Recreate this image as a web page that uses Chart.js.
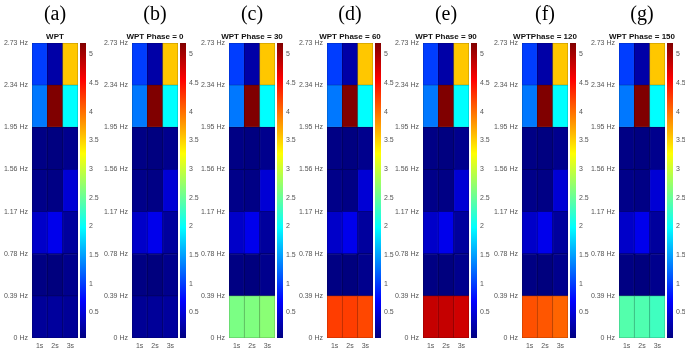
<!DOCTYPE html>
<html>
<head>
<meta charset="utf-8">
<script src="https://cdn.jsdelivr.net/npm/chart.js@4.4.1/dist/chart.umd.min.js"></script>
<style>
    body { margin: 0; background: #fff; }
    #wrap { position: relative; width: 685px; height: 354px; overflow: hidden; }
    canvas { position: absolute; top: 0; }
    .letter { position: absolute; top: 2px; width: 60px; text-align: center; font: 20px "Liberation Serif", "Times New Roman", serif; line-height: 22px; color: #000; }
    .ptitle { position: absolute; top: 33px; width: 90px; text-align: center; font: bold 8px Arial, "Liberation Sans", sans-serif; line-height: 8px; color: #111; white-space: nowrap; }
</style>
</head>
<body>
<div id="wrap"></div>
<script>
// Data
const timeLabels = ['1s', '2s', '3s'];
const freqEdges = [0, 0.39, 0.78, 1.17, 1.56, 1.95, 2.34, 2.73];
const colorTicks = [0.5, 1, 1.5, 2, 2.5, 3, 3.5, 4, 4.5, 5];
const colorMin = 0.05;
const colorMax = 5.2;

const panelLetters = ['(a)', '(b)', '(c)', '(d)', '(e)', '(f)', '(g)'];
const panelTitles = ['WPT', 'WPT Phase = 0', 'WPT Phase = 30', 'WPT Phase = 60', 'WPT Phase = 90', 'WPTPhase = 120', 'WPT Phase = 150'];

// bands above 0.39 Hz (same in every panel), from 0.39-0.78 Hz up to 2.34-2.73 Hz
const upperBands = [
    [0.07, 0.04, 0.12],
    [0.42, 0.6, 0.2],
    [0.1, 0.08, 0.48],
    [0.08, 0.05, 0.12],
    [1.3, 5.2, 1.98],
    [1.0, 0.25, 3.55]
];

// 0-0.39 Hz band for each panel
const lowBandA = [0.18, 0.2, 0.17];
const lowBandB = [0.16, 0.18, 0.2];
const lowBandC = [2.6, 2.62, 2.68];
const lowBandD = [4.25, 4.25, 4.2];
const lowBandE = [4.85, 4.85, 4.8];
const lowBandF = [4.15, 4.12, 4.05];
const lowBandG = [2.4, 2.38, 2.3];
const panelLowBands = [lowBandA, lowBandB, lowBandC, lowBandD, lowBandE, lowBandF, lowBandG];

// Layout
const plotLefts = [32, 132, 229, 327, 423, 522, 619];
const plotWidth = 46;
const plotTop = 43;
const plotBottom = 338;
const labelFont = { family: 'Arial, "Liberation Sans", sans-serif', size: 7 };
const labelColor = '#555';

// MATLAB style jet colormap, returns [r, g, b] in 0..1
function jetRgb(v) {
    const clamp = x => Math.max(0, Math.min(1, x));
    return [
        clamp(Math.min(4 * v - 1.5, -4 * v + 4.5)),
        clamp(Math.min(4 * v - 0.5, -4 * v + 3.5)),
        clamp(Math.min(4 * v + 0.5, -4 * v + 2.5))
    ];
}

function toCss(rgb, k) {
    return 'rgb(' + rgb.map(c => Math.round(c * k * 255)).join(', ') + ')';
}

function jet(v) {
    return toCss(jetRgb(v), 1);
}

function valueColor(value, shade) {
    return toCss(jetRgb((value - colorMin) / (colorMax - colorMin)), shade || 1);
}

function addCanvas(left, width) {
    const canvas = document.createElement('canvas');
    canvas.width = width;
    canvas.height = 354;
    canvas.style.left = left + 'px';
    canvas.style.width = width + 'px';
    canvas.style.height = '354px';
    document.getElementById('wrap').appendChild(canvas);
    return canvas;
}

function addText(cls, text, centerX, width) {
    const div = document.createElement('div');
    div.className = cls;
    div.textContent = text;
    div.style.left = (centerX - width / 2) + 'px';
    document.getElementById('wrap').appendChild(div);
}

// Heatmap panel: one floating bar per frequency band and time column
function drawHeatmap(index) {
    const rows = [panelLowBands[index]].concat(upperBands);
    const datasets = rows.map((row, r) => ({
        data: timeLabels.map(() => [freqEdges[r], freqEdges[r + 1]]),
        backgroundColor: row.map(v => valueColor(v)),
        borderColor: row.map(v => valueColor(v, 0.72)),
        borderWidth: 0.8,
        borderSkipped: false,
        barPercentage: 1,
        categoryPercentage: 1,
        grouped: false
    }));

    const left = plotLefts[index] - 32;
    new Chart(addCanvas(left, 32 + plotWidth + 32), {
        type: 'bar',
        data: { labels: timeLabels, datasets: datasets },
        options: {
            responsive: false,
            animation: false,
            layout: { padding: { top: plotTop, right: 32, left: 0, bottom: 0 } },
            plugins: { legend: { display: false }, tooltip: { enabled: false } },
            scales: {
                x: {
                    grid: { display: false, drawTicks: false },
                    border: { display: false },
                    ticks: { font: labelFont, color: labelColor, padding: 4 },
                    afterFit: scale => { scale.height = 354 - plotBottom; }
                },
                y: {
                    min: 0,
                    max: freqEdges[freqEdges.length - 1],
                    grid: { display: false, drawTicks: false },
                    border: { display: false },
                    afterBuildTicks: scale => { scale.ticks = freqEdges.map(v => ({ value: v })); },
                    ticks: {
                        font: labelFont,
                        color: labelColor,
                        padding: 4,
                        autoSkip: false,
                        callback: value => (value === 0 ? '0' : value.toFixed(2)) + ' Hz'
                    },
                    afterFit: scale => { scale.width = 32; }
                }
            }
        }
    });

    addText('letter', panelLetters[index], plotLefts[index] + plotWidth / 2, 60);
    addText('ptitle', panelTitles[index], plotLefts[index] + plotWidth / 2, 90);
}

// Colorbar: a single floating bar filled with the colormap
function drawColorbar(index) {
    const left = plotLefts[index] + plotWidth + 2;
    new Chart(addCanvas(left, 26), {
        type: 'bar',
        data: {
            labels: [''],
            datasets: [{
                data: [[colorMin, colorMax]],
                barPercentage: 1,
                categoryPercentage: 1,
                backgroundColor: ctx => {
                    const area = ctx.chart.chartArea;
                    if (!area) return 'blue';
                    const grad = ctx.chart.ctx.createLinearGradient(0, area.bottom, 0, area.top);
                    for (let i = 0; i <= 16; i++) {
                        grad.addColorStop(i / 16, jet(i / 16));
                    }
                    return grad;
                }
            }]
        },
        options: {
            responsive: false,
            animation: false,
            layout: { padding: { top: plotTop, bottom: 354 - plotBottom, left: 0, right: 0 } },
            plugins: { legend: { display: false }, tooltip: { enabled: false } },
            scales: {
                x: { display: false },
                y: {
                    position: 'right',
                    min: colorMin,
                    max: colorMax,
                    grid: { display: false, drawTicks: false },
                    border: { display: false },
                    afterBuildTicks: scale => { scale.ticks = colorTicks.map(v => ({ value: v })); },
                    ticks: {
                        font: labelFont,
                        color: labelColor,
                        padding: 3,
                        autoSkip: false,
                        callback: value => String(value)
                    },
                    afterFit: scale => { scale.width = 20; }
                }
            }
        }
    });
}

panelTitles.forEach((title, i) => {
    drawHeatmap(i);
    drawColorbar(i);
});
</script>
</body>
</html>
